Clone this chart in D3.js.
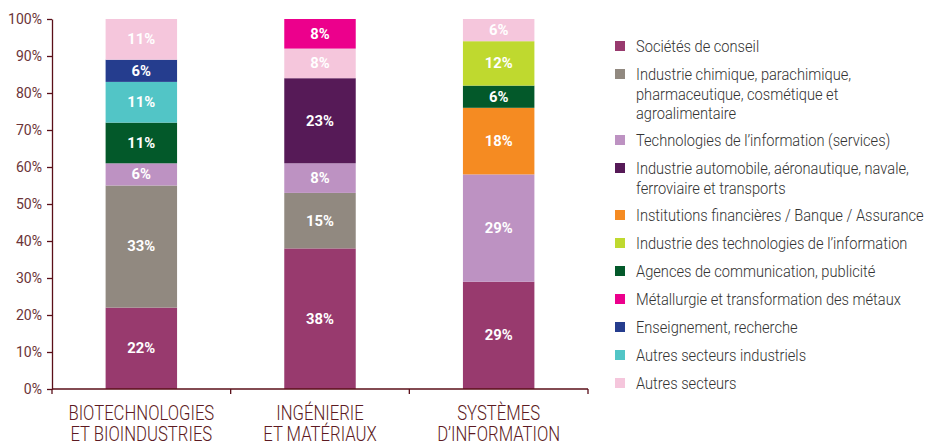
<!DOCTYPE html>
<html>
<head>
<meta charset="utf-8">
<script src="https://cdn.jsdelivr.net/npm/d3@7"></script>
<style>
  body { margin: 0; background: #fff; }
  svg { font-family: Roboto, "Liberation Sans", sans-serif; }
  .ylab { fill: #6b3438; font-size: 14px; }
  .barlabel { fill: #fff; font-weight: bold; font-size: 14px; text-anchor: middle; }
  .legend text { fill: #333; font-size: 16px; font-weight: 300; }
  .cat { fill: #5c1a22; font-size: 19.5px; font-weight: 300; text-anchor: middle; }
</style>
</head>
<body>
<script>
// Global sizes
const width = 933;
const height = 443;
const axisColor = "#5a0f19";

// Data
const categories = [
  ["BIOTECHNOLOGIES", "ET BIOINDUSTRIES"],
  ["INGÉNIERIE", "ET MATÉRIAUX"],
  ["SYSTÈMES", "D’INFORMATION"]
];

const sectors = [
  "Sociétés de conseil",
  "Industrie chimique, parachimique, pharmaceutique, cosmétique et agroalimentaire",
  "Technologies de l’information (services)",
  "Industrie automobile, aéronautique, navale, ferroviaire et transports",
  "Institutions financières / Banque / Assurance",
  "Industrie des technologies de l’information",
  "Agences de communication, publicité",
  "Métallurgie et transformation des métaux",
  "Enseignement, recherche",
  "Autres secteurs industriels",
  "Autres secteurs"
];

// legend text broken as in the original
const legendLines = [
  ["Sociétés de conseil"],
  ["Industrie chimique, parachimique,", "pharmaceutique, cosmétique et", "agroalimentaire"],
  ["Technologies de l’information (services)"],
  ["Industrie automobile, aéronautique, navale,", "ferroviaire et transports"],
  ["Institutions financières / Banque / Assurance"],
  ["Industrie des technologies de l’information"],
  ["Agences de communication, publicité"],
  ["Métallurgie et transformation des métaux"],
  ["Enseignement, recherche"],
  ["Autres secteurs industriels"],
  ["Autres secteurs"]
];

const colors = [
  "#983a6e", "#918980", "#bd92c2", "#561a57", "#f58b22", "#bfd92f",
  "#03592a", "#ec008c", "#253d8e", "#52c5c6", "#f5c6dc"
];

// stacking order (sector index, bottom to top) and values per bar
const bioOrder = [0, 1, 2, 6, 9, 8, 10];
const bioValues = [22, 33, 6, 11, 11, 6, 11];
const ingOrder = [0, 1, 2, 3, 10, 7];
const ingValues = [38, 15, 8, 23, 8, 8];
const sysOrder = [0, 2, 4, 6, 5, 10];
const sysValues = [29, 29, 18, 6, 12, 6];

const orders = [bioOrder, ingOrder, sysOrder];
const valueSets = [bioValues, ingValues, sysValues];
const yTicks = d3.range(0, 101, 10);

// SVG
const svg = d3.select("body").append("svg")
  .attr("width", width)
  .attr("height", height);

// helper: measure a string in a given class so text can be squeezed to a condensed look
function measure(cls, str) {
  const t = svg.append("text").attr("class", cls).text(str);
  const w = t.node().getComputedTextLength();
  t.remove();
  return w;
}

// Scales
const x = d3.scaleBand()
  .domain(d3.range(categories.length))
  .range([52, 588])
  .paddingInner(0.6)
  .paddingOuter(0.3);

const y = d3.scaleLinear()
  .domain([0, 100])
  .range([389, 19]);

const color = d3.scaleOrdinal().domain(d3.range(sectors.length)).range(colors);

// Build segments
const segments = [];
valueSets.forEach((vals, i) => {
  let acc = 0;
  vals.forEach((v, j) => {
    segments.push({ cat: i, sector: orders[i][j], y0: acc, y1: acc + v, value: v });
    acc += v;
  });
});

// Bars
svg.append("g")
  .selectAll("rect")
  .data(segments)
  .enter()
  .append("rect")
  .attr("x", d => x(d.cat))
  .attr("width", x.bandwidth())
  .attr("y", d => y(d.y1))
  .attr("height", d => y(d.y0) - y(d.y1))
  .attr("fill", d => color(d.sector));

// Bar labels (condensed)
const kBar = 28 / measure("barlabel", "33%");
svg.append("g")
  .selectAll("text")
  .data(segments)
  .enter()
  .append("text")
  .attr("class", "barlabel")
  .attr("transform", d => `translate(${x(d.cat) + x.bandwidth() / 2},${y((d.y0 + d.y1) / 2)}) scale(${kBar},1)`)
  .attr("dy", "0.35em")
  .text(d => d.value + "%");

// Y axis
const yAxis = svg.append("g")
  .attr("transform", "translate(52,0)")
  .call(d3.axisLeft(y).tickValues(yTicks).tickFormat("").tickSize(5).tickSizeOuter(0));
yAxis.selectAll("path, line").attr("stroke", axisColor).attr("stroke-width", 1.3);

const kY = 34 / measure("ylab", "100%");
svg.append("g")
  .selectAll("text")
  .data(yTicks)
  .enter()
  .append("text")
  .attr("class", "ylab")
  .attr("text-anchor", "end")
  .attr("transform", d => `translate(42,${y(d)}) scale(${kY},1)`)
  .attr("dy", "0.36em")
  .text(d => d + "%");

// X axis: line with ticks at band boundaries
const xAxis = svg.append("g").attr("transform", "translate(0,389)");
xAxis.append("line")
  .attr("x1", x.range()[0]).attr("x2", x.range()[1])
  .attr("stroke", axisColor).attr("stroke-width", 1.3);
const bounds = d3.range(categories.length + 1).map(i => x.range()[0] + i * x.step());
xAxis.selectAll("line.bound")
  .data(bounds)
  .enter()
  .append("line")
  .attr("class", "bound")
  .attr("x1", d => d).attr("x2", d => d)
  .attr("y1", 0).attr("y2", 5)
  .attr("stroke", axisColor).attr("stroke-width", 1.3);

// Category labels
const kCat = 146 / measure("cat", "BIOTECHNOLOGIES");
categories.forEach((lines, i) => {
  lines.forEach((line, k) => {
    svg.append("text")
      .attr("class", "cat")
      .attr("transform", `translate(${x(i) + x.bandwidth() / 2},${420 + k * 21}) scale(${kCat},1)`)
      .text(line);
  });
});

// Legend
const kLeg = 126 / measure("legend", "Sociétés de conseil");
const legend = svg.append("g").attr("class", "legend");
let ly = 46;
legendLines.forEach((lines, i) => {
  const g = legend.append("g").attr("transform", `translate(615,${ly})`);
  g.append("rect")
    .attr("x", 0).attr("y", -5)
    .attr("width", 10).attr("height", 10)
    .attr("fill", colors[i]);
  lines.forEach((line, k) => {
    g.append("text")
      .attr("transform", `translate(21,${6 + k * 19.5}) scale(${kLeg},1)`)
      .text(line);
  });
  ly += lines.length * 19 + 9;
});
</script>
</body>
</html>
